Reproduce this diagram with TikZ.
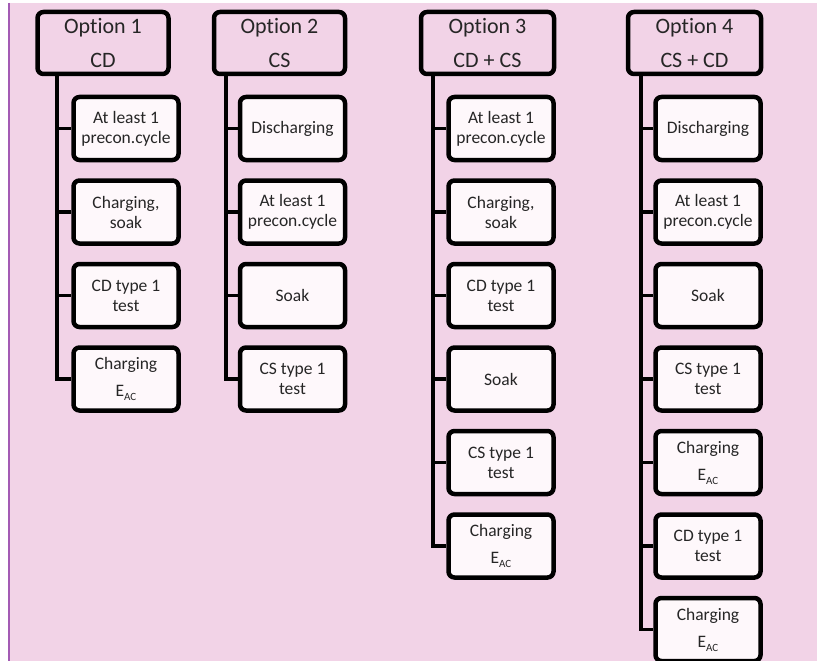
\documentclass[tikz,border=0pt]{standalone}
\usepackage{fontspec}
\setmainfont{Carlito}[Ligatures=NoCommon]
\definecolor{bgpink}{HTML}{F2D3E7}
\definecolor{edgepurple}{HTML}{A35BB4}
\definecolor{boxfill}{HTML}{FEF8FB}
\definecolor{ink}{HTML}{262626}
\newcommand\EacLabel{E\raisebox{-4pt}{\fontsize{11}{11}\selectfont AC}}

\tikzset{
  head/.style={draw=black, line width=4.5pt, rounded corners=6pt, fill=bgpink,
    minimum width=131pt, minimum height=62pt, inner sep=0pt, align=center,
    text=ink, font=\fontsize{22}{34}\selectfont},
  stepbox/.style={draw=black, line width=4.5pt, rounded corners=6pt, fill=boxfill,
    minimum width=105pt, minimum height=63pt, inner sep=0pt, align=center,
    text=ink, font=\fontsize{17.5}{20}\selectfont},
  link/.style={line width=3.8pt, line join=miter},
}

\begin{document}
\begin{tikzpicture}[x=1pt, y=-1pt]
  \useasboundingbox (0,0) rectangle (817,661);
  % page background
  \fill[white] (0,0) rectangle (817,661);
  \fill[bgpink] (8,3) rectangle (817,661);
  \draw[edgepurple, line width=1.5pt] (8.75,3) -- (8.75,661);

  % trunk positions
  \coordinate (t1) at (57,0);
  \coordinate (t2) at (226,0);
  \coordinate (t3) at (433,0);
  \coordinate (t4) at (641,0);

  % headers
  \node[head] (h1) at (103,43) {Option 1\\CD};
  \node[head] (h2) at (279.5,43) {Option 2\\CS};
  \node[head, minimum width=133pt] (h3) at (487.5,43) {Option 3\\CD + CS};
  \node[head, minimum width=133pt] (h4) at (694.5,43) {Option 4\\CS + CD};

  % Option 1: CD
  \node[stepbox] (c11) at (126,128.5) {At least 1\\precon.cycle};
  \node[stepbox] (c12) at (126,212) {Charging,\\soak};
  \node[stepbox] (c13) at (126,295.5) {CD type 1\\test};
  \node[stepbox] (c14) at (126,379) {Charging\\[7pt]\EacLabel};

  % Option 2: CS
  \node[stepbox] (c21) at (292.5,128.5) {Discharging};
  \node[stepbox] (c22) at (292.5,212) {At least 1\\precon.cycle};
  \node[stepbox] (c23) at (292.5,295.5) {Soak};
  \node[stepbox] (c24) at (292.5,379) {CS type 1\\test};

  % Option 3: CD + CS
  \node[stepbox] (c31) at (501,128.5) {At least 1\\precon.cycle};
  \node[stepbox] (c32) at (501,212) {Charging,\\soak};
  \node[stepbox] (c33) at (501,295.5) {CD type 1\\test};
  \node[stepbox] (c34) at (501,379) {Soak};
  \node[stepbox] (c35) at (501,462.5) {CS type 1\\test};
  \node[stepbox] (c36) at (501,546) {Charging\\[7pt]\EacLabel};

  % Option 4: CS + CD
  \node[stepbox] (c41) at (708,128.5) {Discharging};
  \node[stepbox] (c42) at (708,212) {At least 1\\precon.cycle};
  \node[stepbox] (c43) at (708,295.5) {Soak};
  \node[stepbox] (c44) at (708,379) {CS type 1\\test};
  \node[stepbox] (c45) at (708,462.5) {Charging\\[7pt]\EacLabel};
  \node[stepbox] (c46) at (708,546) {CD type 1\\test};
  \node[stepbox] (c47) at (708,629.5) {Charging\\[7pt]\EacLabel};

  % connectors: trunk down from each header, branches to each step
  \draw[link] (h1.south -| t1) |- (c14.west);
  \foreach \i in {1,2,3} \draw[link] (c1\i.west -| t1) -- (c1\i.west);
  \draw[link] (h2.south -| t2) |- (c24.west);
  \foreach \i in {1,2,3} \draw[link] (c2\i.west -| t2) -- (c2\i.west);
  \draw[link] (h3.south -| t3) |- (c36.west);
  \foreach \i in {1,...,5} \draw[link] (c3\i.west -| t3) -- (c3\i.west);
  \draw[link] (h4.south -| t4) |- (c47.west);
  \foreach \i in {1,...,6} \draw[link] (c4\i.west -| t4) -- (c4\i.west);
\end{tikzpicture}
\end{document}
